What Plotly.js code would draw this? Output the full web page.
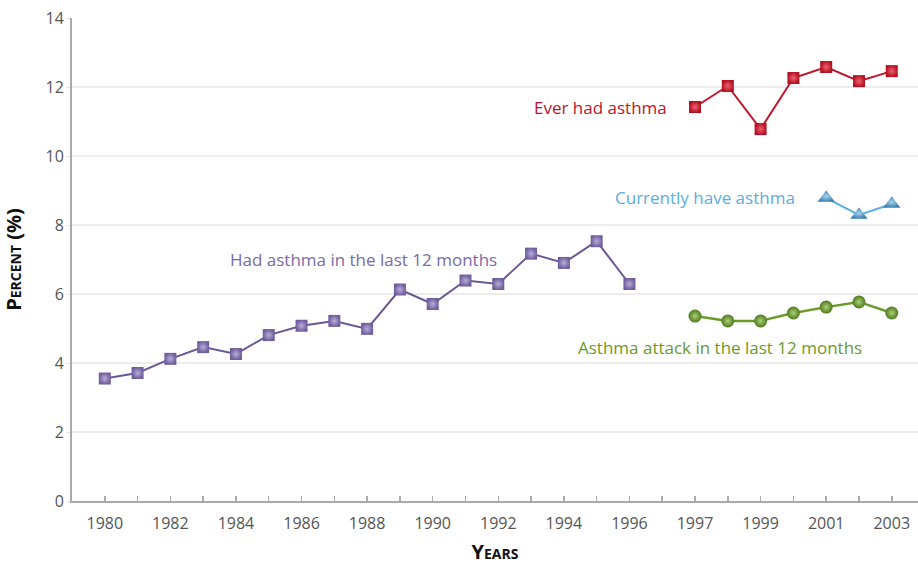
<!DOCTYPE html>
<html>
<head>
<meta charset="utf-8">
<script src="https://cdn.plot.ly/plotly-3.0.1.min.js"></script>
<style>html,body{margin:0;padding:0;background:#fff;}#chart{width:918px;height:565px;}</style>
</head>
<body>
<div id="chart"></div>
<script>
// Positions on the axis: 1980-1996 consecutive, one empty slot, then 1997-2003
const yearsEarly = [1980,1981,1982,1983,1984,1985,1986,1987,1988,1989,1990,1991,1992,1993,1994,1995,1996];
const yearsLate = [1997,1998,1999,2000,2001,2002,2003];
const yearsCurrent = [2001,2002,2003];

const hadLast12 = [3.55,3.71,4.12,4.46,4.26,4.81,5.08,5.22,4.99,6.13,5.71,6.39,6.29,7.17,6.90,7.53,6.29];
const everHad = [11.42,12.03,10.78,12.26,12.58,12.17,12.46];
const currentlyHave = [8.78,8.29,8.61];
const attackLast12 = [5.36,5.22,5.22,5.45,5.62,5.77,5.45];

const tickYears = [1980,1982,1984,1986,1988,1990,1992,1994,1996,1997,1999,2001,2003];

// map a year to its slot on the axis
function slot(y){ return y <= 1996 ? y - 1980 : y - 1980 + 1; }
const allSlots = [];
for (let i = 0; i <= 24; i++) allSlots.push(i);

const font = '"Open Sans", "DejaVu Sans", sans-serif';

const traces = [
  {x: yearsEarly.map(slot), y: hadLast12, mode:'lines+markers', type:'scatter',
   line:{color:'#6a5896', width:2},
   marker:{symbol:'square', size:12, color:'#6e5c9c', gradient:{type:'radial', color:'#b8acd8'}, line:{width:0}}},
  {x: yearsLate.map(slot), y: everHad, mode:'lines+markers', type:'scatter',
   line:{color:'#c0142c', width:2},
   marker:{symbol:'square', size:12, color:'#b3101f', gradient:{type:'radial', color:'#ee6070'}, line:{width:0}}},
  {x: yearsCurrent.map(slot), y: currentlyHave, mode:'lines+markers', type:'scatter',
   line:{color:'#5aaee0', width:2},
   marker:{symbol:'triangle-up', size:15, color:'#3a80ae', gradient:{type:'radial', color:'#a6d4f0'}, line:{width:0}}},
  {x: yearsLate.map(slot), y: attackLast12, mode:'lines+markers', type:'scatter',
   line:{color:'#6a9a2a', width:2.5},
   marker:{symbol:'circle', size:13, color:'#4e7a1c', gradient:{type:'radial', color:'#acd078'}, line:{width:0}}}
];

const layout = {
  width:918, height:565,
  margin:{l:72, r:0, t:18, b:64},
  paper_bgcolor:'#fff', plot_bgcolor:'#fff',
  showlegend:false,
  font:{family:font, color:'#555'},
  xaxis:{
    range:[-1, 24.8],
    tickmode:'array', tickvals: allSlots,
    ticktext: allSlots.map(s => { const yr = s <= 16 ? 1980 + s : 1979 + s; return (s !== 17 && tickYears.includes(yr)) ? String(yr) : ''; }),
    ticks:'inside', ticklen:5, tickwidth:1.5, tickcolor:'#aaa',
    ticklabelstandoff:7,
    showgrid:false, zeroline:false,
    showline:true, linecolor:'#aaa', linewidth:2,
    tickfont:{size:16, color:'#555', family:font},
    title:{text:'<b>Years</b>', font:{size:20, color:'#111', family:font, variant:'small-caps'}, standoff:13}
  },
  yaxis:{
    range:[0,14], tickvals:[0,2,4,6,8,10,12,14],
    ticks:'outside', ticklen:3, tickcolor:'#ddd', tickwidth:1,
    showgrid:true, gridcolor:'#ececec', gridwidth:1.5,
    zeroline:false, showline:true, linecolor:'#aaa', linewidth:2,
    tickfont:{size:16, color:'#555', family:font},
    title:{text:'<b>Percent (%)</b>', font:{size:20, color:'#111', family:font, variant:'small-caps'}, standoff:20}
  },
  annotations:[
    {x:17.22, y:11.42, xref:'x', yref:'y', text:'Ever had asthma', showarrow:false, xanchor:'right', yanchor:'middle', font:{size:17, color:'#c0142c', family:font}},
    {x:21.1, y:8.81, xref:'x', yref:'y', text:'Currently have asthma', showarrow:false, xanchor:'right', yanchor:'middle', font:{size:17, color:'#5aaee0', family:font}},
    {x:3.76, y:7.01, xref:'x', yref:'y', text:'Had asthma in the last 12 months', showarrow:false, xanchor:'left', yanchor:'middle', font:{size:17, color:'#7a6aa6', family:font}},
    {x:14.38, y:4.46, xref:'x', yref:'y', text:'Asthma attack in the last 12 months', showarrow:false, xanchor:'left', yanchor:'middle', font:{size:17, color:'#6a9a2a', family:font}}
  ]
};

Plotly.newPlot('chart', traces, layout, {displayModeBar:false, staticPlot:true});
</script>
</body>
</html>
